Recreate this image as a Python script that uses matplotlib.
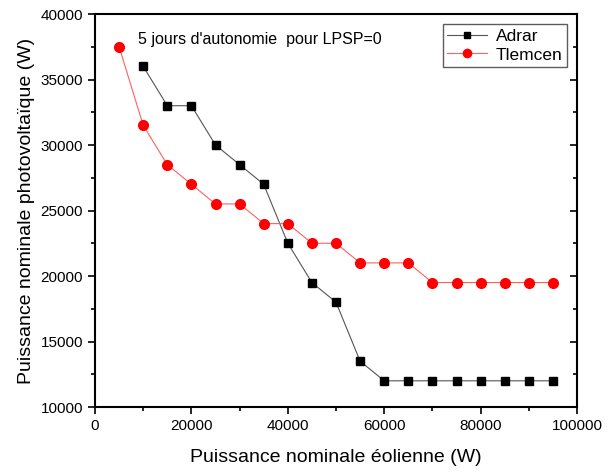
import matplotlib
matplotlib.use("Agg")
import matplotlib.pyplot as plt
from matplotlib.ticker import MultipleLocator

plt.rcParams["font.family"] = ["Liberation Sans", "DejaVu Sans"]

# ---- data
x_adrar = [10000, 15000, 20000, 25000, 30000, 35000, 40000, 45000, 50000,
           55000, 60000, 65000, 70000, 75000, 80000, 85000, 90000, 95000]
y_adrar = [36000, 33000, 33000, 30000, 28500, 27000, 22500, 19500, 18000,
           13500, 12000, 12000, 12000, 12000, 12000, 12000, 12000, 12000]
x_tlemcen = [5000, 10000, 15000, 20000, 25000, 30000, 35000, 40000, 45000, 50000,
             55000, 60000, 65000, 70000, 75000, 80000, 85000, 90000, 95000]
y_tlemcen = [37500, 31500, 28500, 27000, 25500, 25500, 24000, 24000, 22500, 22500,
             21000, 21000, 21000, 19500, 19500, 19500, 19500, 19500, 19500]

fig = plt.figure(figsize=(6.14, 4.72), dpi=100)
ax = fig.add_axes([95/614, 1 - 407/472, (577-95)/614, (407-14)/472])

ax.plot(x_adrar, y_adrar, color="#555555", lw=0.8, marker="s", ms=5.5,
        mfc="black", mec="black", label="Adrar")
ax.plot(x_tlemcen, y_tlemcen, color="#ff6060", lw=0.8, marker="o", ms=7,
        mfc="red", mec="red", label="Tlemcen")

ax.set_xlim(0, 100000); ax.set_ylim(10000, 40000)
ax.xaxis.set_major_locator(MultipleLocator(20000)); ax.xaxis.set_minor_locator(MultipleLocator(10000))
ax.yaxis.set_major_locator(MultipleLocator(5000)); ax.yaxis.set_minor_locator(MultipleLocator(2500))
ax.tick_params(which="both", direction="out", right=True, labelsize=11, width=1.2)
ax.tick_params(which="major", length=5)
ax.tick_params(which="minor", length=3)
for s in ax.spines.values():
    s.set_linewidth(1.5)
# right side ticks point inward
for t in ax.yaxis.get_major_ticks() + ax.yaxis.get_minor_ticks():
    t.tick2line.set_marker(matplotlib.lines.TICKLEFT)

ax.set_xlabel("Puissance nominale éolienne (W)", fontsize=14, labelpad=12)
ax.set_ylabel("Puissance nominale photovoltaïque (W)", fontsize=14, labelpad=4)
ax.text(0.09, 0.955, "5 jours d'autonomie  pour LPSP=0", transform=ax.transAxes,
        fontsize=11.5, va="top")
leg = ax.legend(loc="upper right", fontsize=12.5, fancybox=False, edgecolor="#333333",
                borderaxespad=0.6, handlelength=2.3, handletextpad=0.5,
                borderpad=0.25, labelspacing=0.2, markerscale=0.85)
leg.get_frame().set_linewidth(1.0)

fig.savefig("out.png", dpi=100)
